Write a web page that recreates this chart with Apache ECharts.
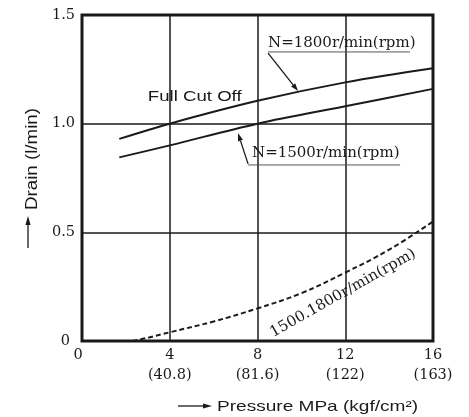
<!DOCTYPE html>
<html>
<head>
<meta charset="utf-8">
<script src="https://cdn.jsdelivr.net/npm/echarts@6/dist/echarts.min.js"></script>
<style>html,body{margin:0;padding:0;background:#fff}#c{width:469px;height:417px}</style>
</head>
<body>
<div id="c"></div>
<script>
// ---- data ----
const xTicks = [0, 4, 8, 12, 16];
const xTickMain = ['0', '4', '8', '12', '16'];
const xTickSub = ['', '(40.8)', '(81.6)', '(122)', '(163)'];
const yTicks = [0, 0.5, 1.0, 1.5];
const yTickLabels = ['0', '0.5', '1.0', '1.5'];

const pressure1800 = [1.7, 4, 8, 12, 16];
const drain1800 = [0.93, 1.0, 1.105, 1.19, 1.255];
const pressure1500 = [1.7, 4, 8, 12, 16];
const drain1500 = [0.845, 0.90, 1.0, 1.08, 1.16];
const pressureCut = [2.3, 3, 4, 6, 8, 10, 12, 14, 16];
const drainCut = [0.0, 0.015, 0.04, 0.09, 0.15, 0.22, 0.315, 0.42, 0.55];

const label1800 = 'N=1800r/min(rpm)';
const label1500 = 'N=1500r/min(rpm)';
const labelCut = '1500.1800r/min(rpm)';
const labelFull = 'Full Cut Off';
const titleText = 'Drain';
const xName = 'Pressure MPa (kgf/cm²)';
const yName = 'Drain (l/min)';

const INK = '#1a1a1a';
const SERIF = '"DejaVu Serif", "Liberation Serif", serif';
const SANS = '"Liberation Sans", Arial, sans-serif';

function pairs(xs, ys) { return xs.map((x, i) => [x, ys[i]]); }

const chart = echarts.init(document.getElementById('c'), null, {renderer: 'canvas'});

const option = {
  animation: false,
  backgroundColor: '#fff',
  grid: {left: 82, right: 36, top: 15, bottom: 76, show: true, borderWidth: 3, borderColor: INK, backgroundColor: 'transparent'},
  xAxis: {
    type: 'value', min: 0, max: 16, interval: 4,
    axisLine: {show: false}, axisTick: {show: false},
    splitLine: {show: true, lineStyle: {color: INK, width: 1.5}},
    axisLabel: {
      margin: 4, color: INK, fontFamily: SERIF, fontSize: 14.5, lineHeight: 20,
      formatter: function (v) {
        const i = xTicks.indexOf(v);
        if (i < 0) return '';
        if (!xTickSub[i]) return '{z|' + xTickMain[i] + '}';
        return xTickMain[i] + '\n' + xTickSub[i];
      },
      rich: {z: {fontFamily: SERIF, fontSize: 14.5, color: INK, padding: [0, 8, 0, 0], lineHeight: 20}}
    }
  },
  yAxis: {
    type: 'value', min: 0, max: 1.5, interval: 0.5,
    axisLine: {show: false}, axisTick: {show: false},
    splitLine: {show: true, lineStyle: {color: INK, width: 1.5}},
    axisLabel: {
      margin: 7, color: INK, fontFamily: SERIF, fontSize: 14.5,
      formatter: function (v) {
        const i = yTicks.findIndex(t => Math.abs(t - v) < 1e-9);
        if (i < 0) return '';
        if (i === 0) return '{z|' + yTickLabels[i] + '}';
        return yTickLabels[i];
      },
      rich: {z: {fontFamily: SERIF, fontSize: 14.5, color: INK, padding: [0, 5, 0, 0]}}
    }
  },
  series: [
    {type: 'line', name: label1800, data: pairs(pressure1800, drain1800), smooth: 0.35, showSymbol: false,
     lineStyle: {color: INK, width: 2}, z: 5},
    {type: 'line', name: label1500, data: pairs(pressure1500, drain1500), smooth: 0.35, showSymbol: false,
     lineStyle: {color: INK, width: 2}, z: 5},
    {type: 'line', name: labelCut, data: pairs(pressureCut, drainCut), smooth: 0.4, showSymbol: false,
     lineStyle: {color: INK, width: 2, type: [5, 3]}, z: 5}
  ]
};
chart.setOption(option);

function px(x, y) { return chart.convertToPixel({gridIndex: 0}, [x, y]); }

function arrow(p1, p2, head) {
  const dx = p2[0] - p1[0], dy = p2[1] - p1[1];
  const len = Math.sqrt(dx * dx + dy * dy);
  const ux = dx / len, uy = dy / len;
  const h = head || 7, w = 2.6;
  const bx = p2[0] - ux * h, by = p2[1] - uy * h;
  return [
    {type: 'line', shape: {x1: p1[0], y1: p1[1], x2: bx, y2: by}, style: {stroke: INK, lineWidth: 1.3}, z: 10},
    {type: 'polygon', shape: {points: [[p2[0], p2[1]], [bx - uy * w, by + ux * w], [bx + uy * w, by - ux * w]]},
     style: {fill: INK}, z: 10}
  ];
}

function txt(text, pos, opts) {
  return Object.assign({
    type: 'text', x: pos[0], y: pos[1], z: 10,
    style: Object.assign({text: text, fill: INK, x: 0, y: 0}, opts.style)
  }, opts.el || {});
}

const g = [];
// N=1800 annotation
const t1800 = px(8.48, 1.371);
g.push(txt(label1800, t1800, {style: {font: '15px ' + SERIF, textAlign: 'left', textVerticalAlign: 'middle'}}));
const u1800a = px(8.48, 1.33), u1800b = px(14.95, 1.33);
g.push({type: 'line', shape: {x1: u1800a[0], y1: u1800a[1], x2: u1800b[0], y2: u1800b[1]}, style: {stroke: '#555', lineWidth: 1}, z: 10});
g.push(...arrow(px(8.48, 1.325), px(9.85, 1.15), 8));

// N=1500 annotation
const t1500 = px(7.75, 0.865);
g.push(txt(label1500, t1500, {style: {font: '15px ' + SERIF, textAlign: 'left', textVerticalAlign: 'middle'}}));
const u1500a = px(7.57, 0.81), u1500b = px(14.5, 0.81);
g.push({type: 'line', shape: {x1: u1500a[0], y1: u1500a[1], x2: u1500b[0], y2: u1500b[1]}, style: {stroke: '#555', lineWidth: 1}, z: 10});
g.push(...arrow(px(7.57, 0.815), px(7.11, 0.957), 8));

// Full Cut Off
const tFull = px(3.0, 1.12);
g.push(txt(labelFull, tFull, {style: {font: '14px ' + SANS, textAlign: 'left', textVerticalAlign: 'middle'}, el: {scaleX: 1.33}}));

// dashed curve label
const tCut = px(11.9, 0.22);
g.push(txt(labelCut, tCut, {style: {font: '15px ' + SERIF, textAlign: 'center', textVerticalAlign: 'middle'}, el: {rotation: 29.5 * Math.PI / 180}}));

// title (cut off at top)
g.push({type: 'text', x: 205, y: 3, z: 10, scaleX: 1.3,
  style: {text: titleText, x: 0, y: 0, font: '18px ' + SANS, fill: INK, textAlign: 'center', textVerticalAlign: 'bottom'}});

// x axis name with arrow
g.push(...arrow([178, 406], [212, 406], 9));
g.push({type: 'text', x: 217, y: 407, z: 10, scaleX: 1.27,
  style: {text: xName, x: 0, y: 0, font: '15px ' + SANS, fill: INK, textAlign: 'left', textVerticalAlign: 'middle'}});

// y axis name with arrow
g.push(...arrow([28, 248], [28, 216], 9));
g.push({type: 'text', x: 33, y: 159, z: 10, scaleX: 1.17, rotation: Math.PI / 2,
  style: {text: yName, x: 0, y: 0, font: '16px ' + SANS, fill: INK, textAlign: 'center', textVerticalAlign: 'middle'}});

chart.setOption({graphic: {elements: g}});
</script>
</body>
</html>
